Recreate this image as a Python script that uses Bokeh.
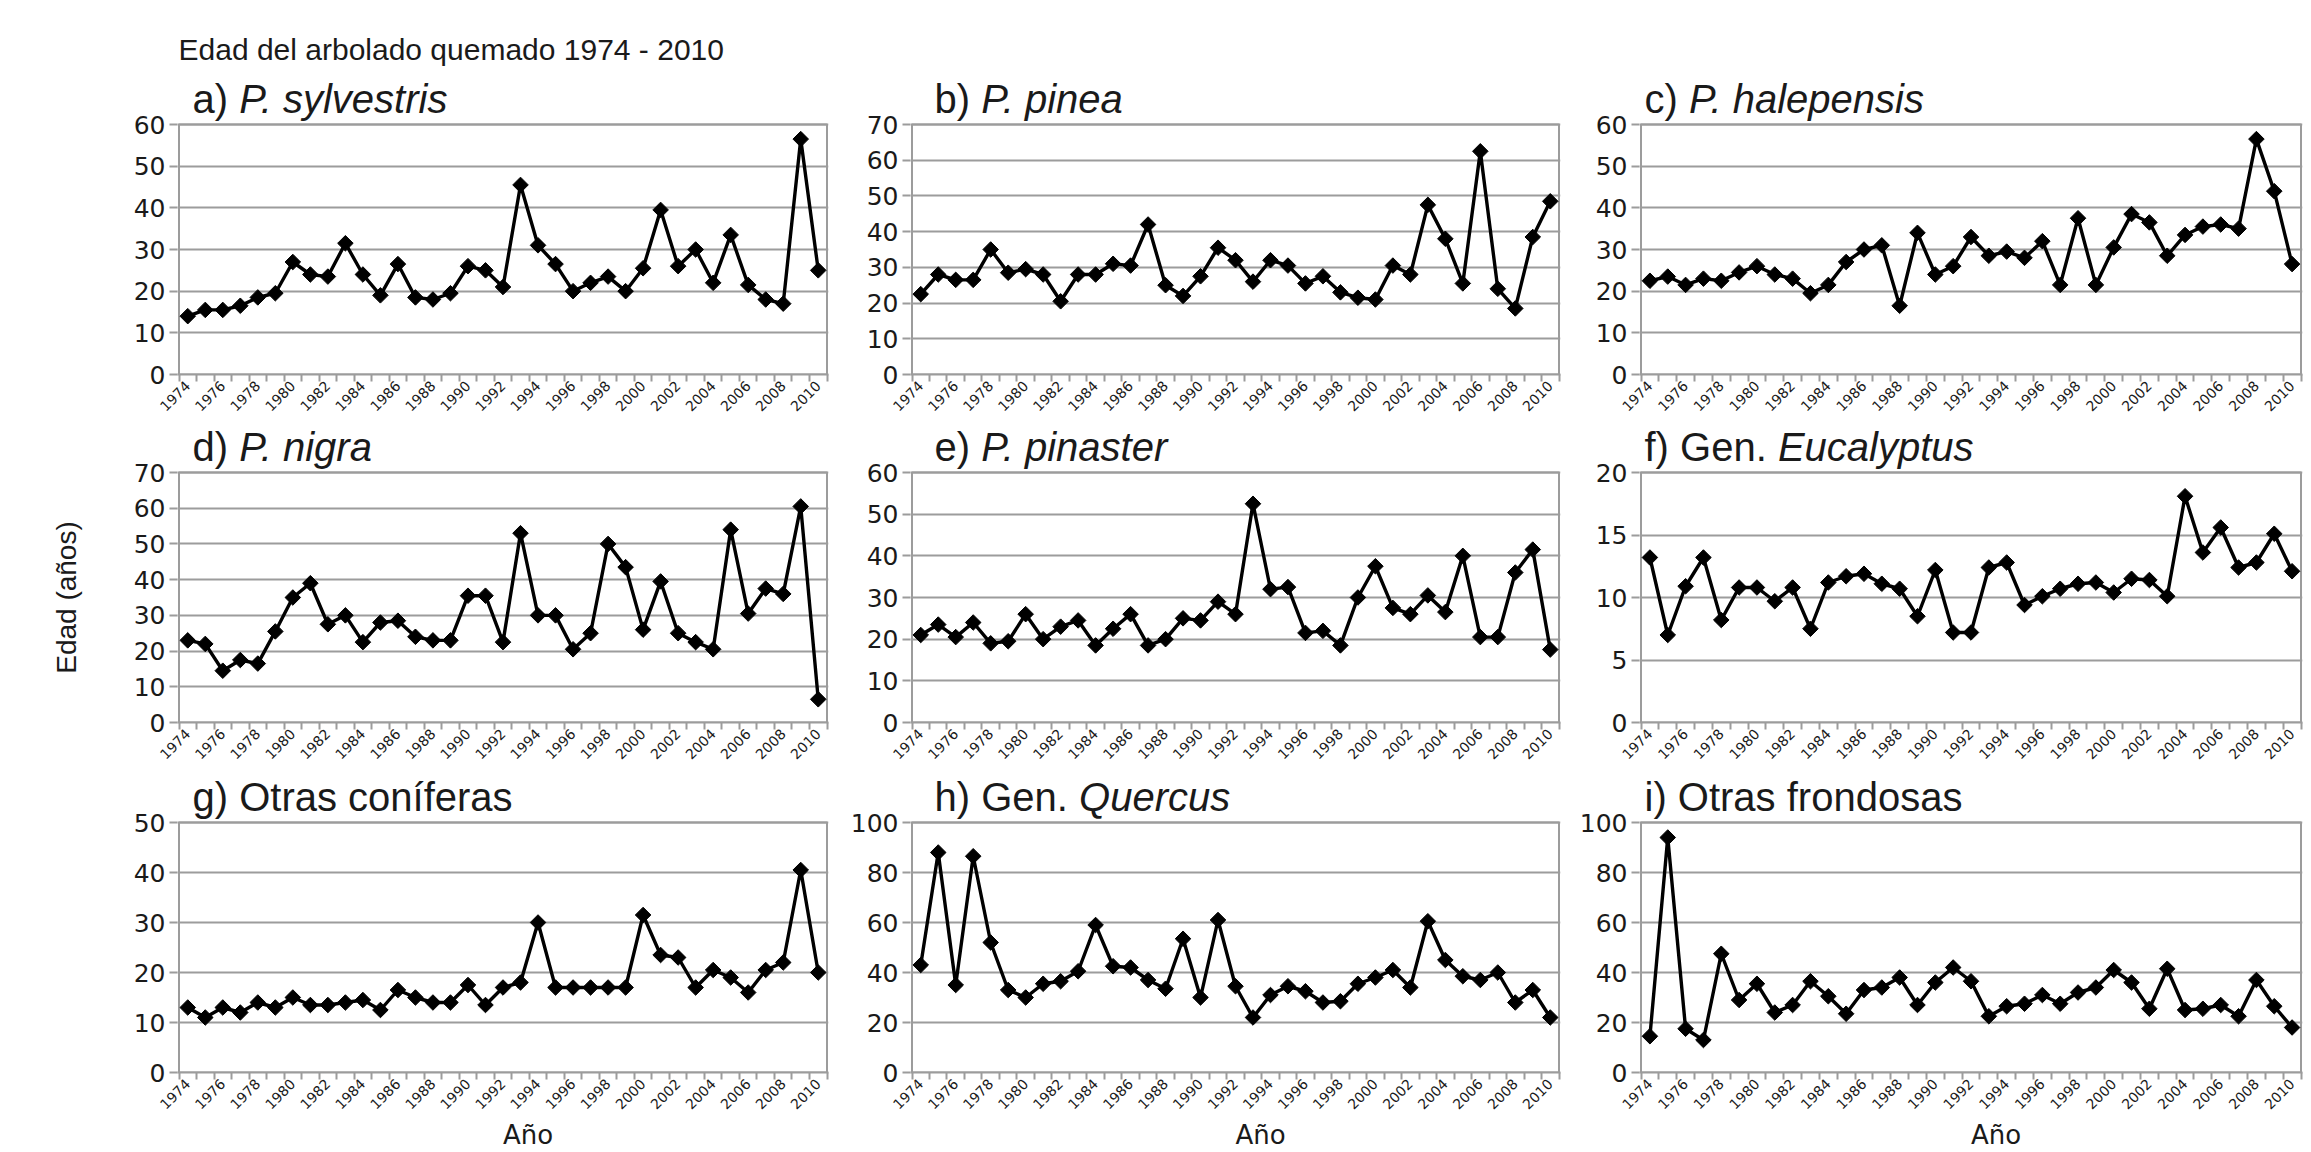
from math import pi
from bokeh.plotting import figure
from bokeh.models import Range1d, FixedTicker
from bokeh.layouts import column, row
from bokeh.core.properties import value
from bokeh.embed import file_html
from bokeh.resources import INLINE

# ---------------- data ----------------
years = list(range(1974, 2011))
tick_labels = ["1974", "1976", "1978", "1980", "1982", "1984", "1986", "1988", "1990",
               "1992", "1994", "1996", "1998", "2000", "2002", "2004", "2006", "2008", "2010"]

sylvestris = [14, 15.5, 15.5, 16.5, 18.5, 19.5, 27, 24, 23.5, 31.5, 24, 19, 26.5, 18.5, 18, 19.5,
              26, 25, 21, 45.5, 31, 26.5, 20, 22, 23.5, 20, 25.5, 39.5, 26, 30, 22, 33.5, 21.5,
              18, 17, 56.5, 25]
pinea = [22.5, 28, 26.5, 26.5, 35, 28.5, 29.5, 28, 20.5, 28, 28, 31, 30.5, 42, 25, 22, 27.5, 35.5,
         32, 26, 32, 30.5, 25.5, 27.5, 23, 21.5, 21, 30.5, 28, 47.5, 38, 25.5, 62.5, 24, 18.5,
         38.5, 48.5]
halepensis = [22.5, 23.5, 21.5, 23, 22.5, 24.5, 26, 24, 23, 19.5, 21.5, 27, 30, 31, 16.5, 34, 24,
              26, 33, 28.5, 29.5, 28, 32, 21.5, 37.5, 21.5, 30.5, 38.5, 36.5, 28.5, 33.5, 35.5, 36,
              35, 56.5, 44, 26.5]
nigra = [23, 22, 14.5, 17.5, 16.5, 25.5, 35, 39, 27.5, 30, 22.5, 28, 28.5, 24, 23, 23, 35.5, 35.5,
         22.5, 53, 30, 30, 20.5, 25, 50, 43.5, 26, 39.5, 25, 22.5, 20.5, 54, 30.5, 37.5, 36, 60.5,
         6.5]
pinaster = [21, 23.5, 20.5, 24, 19, 19.5, 26, 20, 23, 24.5, 18.5, 22.5, 26, 18.5, 20, 25, 24.5, 29,
            26, 52.5, 32, 32.5, 21.5, 22, 18.5, 30, 37.5, 27.5, 26, 30.5, 26.5, 40, 20.5, 20.5, 36,
            41.5, 17.5]
eucalyptus = [13.2, 7, 10.9, 13.2, 8.2, 10.8, 10.8, 9.7, 10.8, 7.5, 11.2, 11.7, 11.9, 11.1, 10.7,
              8.5, 12.2, 7.2, 7.2, 12.4, 12.8, 9.4, 10.1, 10.7, 11.1, 11.2, 10.4, 11.5, 11.4, 10.1,
              18.1, 13.6, 15.6, 12.4, 12.8, 15.1, 12.1]
otras_coniferas = [13, 11, 13, 12, 14, 13, 15, 13.5, 13.5, 14, 14.5, 12.5, 16.5, 15, 14, 14, 17.5,
                   13.5, 17, 18, 30, 17, 17, 17, 17, 17, 31.5, 23.5, 23, 17, 20.5, 19, 16, 20.5,
                   22, 40.5, 20]
quercus = [43, 88, 35, 86.5, 52, 33, 30, 35.5, 36.5, 40.5, 59, 42.5, 42, 37, 33.5, 53.5, 30, 61,
           34.5, 22, 31, 34.5, 32.5, 28, 28.5, 35.5, 38, 41, 34, 60.5, 45, 38.5, 37, 40, 28, 33, 22]
otras_frondosas = [14.5, 94, 17.5, 13, 47.5, 29, 35.5, 24, 27, 36.5, 30.5, 23.5, 33, 34, 38, 27,
                   36, 42, 36.5, 22.5, 26.5, 27.5, 31, 27.5, 32, 34, 41, 36, 25.5, 41.5, 25, 25.5,
                   27, 22.5, 37, 26.5, 18]

title_prefixes = ["a) ", "b) ", "c) ", "d) ", "e) ", "f) Gen. ", "g) Otras coníferas", "h) Gen. ",
                  "i) Otras frondosas"]
title_italics = ["P. sylvestris", "P. pinea", "P. halepensis", "P. nigra", "P. pinaster",
                 "Eucalyptus", "", "Quercus", ""]
series = [sylvestris, pinea, halepensis, nigra, pinaster, eucalyptus, otras_coniferas, quercus,
          otras_frondosas]
y_max = [60, 70, 60, 70, 60, 20, 50, 100, 100]
y_step = [10, 10, 10, 10, 10, 5, 10, 20, 20]

main_title = "Edad del arbolado quemado 1974 - 2010"
y_title = "Edad (años)"
x_title = "Año"

# ---------------- layout / style ----------------
GRAY = "#9c9c9c"
TXT = "#1a1a1a"
LEFT_W = 108                      # strip holding the y title
COL_L = [69, 70, 64]
COL_W = [651, 650, 663]
COL_R = [12, 15, 4]
H = 250                           # height of the gridded plot area
EXTRA = [123, 50, 52]             # title band (inside the frame) above each row's plot area
PT, PB = 1, 47
BOTTOM_H = 31
TITLE_DX = [15, 24, 5]
TITLE_FS = 40
TITLE_MID = 26                    # px above plot area (title text middle)
MAIN_MID = 75                     # px above plot area (main title middle)
TOTAL_W = sum(COL_L) + sum(COL_W) + sum(COL_R)
TOTAL_H = sum(PT + e + H + PB for e in EXTRA) + BOTTOM_H

ARIAL = {'a': .556, 'b': .556, 'c': .5, 'd': .556, 'e': .556, 'f': .278, 'g': .556, 'h': .556,
         'i': .222, ')': .333, ' ': .278, 'G': .778, 'n': .556, '.': .278}


def text_w(s, fs):
    return sum(ARIAL.get(ch, .556) for ch in s) * fs


frame_left = []
acc = 0
for c in range(3):
    frame_left.append(acc + COL_L[c])
    acc += COL_L[c] + COL_W[c] + COL_R[c]


def strip(h, w=TOTAL_W):
    s = figure(width=w, height=h, output_backend="svg", toolbar_location=None,
               x_range=Range1d(0, w), y_range=Range1d(h, 0),
               x_axis_type=None, y_axis_type=None,
               min_border=0, min_border_left=0, min_border_right=0,
               min_border_top=0, min_border_bottom=0)
    s.grid.visible = False
    s.outline_line_color = None
    return s


def make_panel(k):
    c, r = k % 3, k // 3
    L, W, R = COL_L[c], COL_W[c], COL_R[c]
    E = EXTRA[r]
    n_cat = len(years)
    pxu = (W - 3) / n_cat                 # pixels per year
    pad = 1.5 / pxu
    x0, x1 = years[0] - 0.5, years[-1] + 0.5
    pyu = H / y_max[k]                    # pixels per y unit
    p = figure(width=L + W + R, height=PT + E + H + PB, output_backend="svg",
               toolbar_location=None,
               x_range=Range1d(x0 - pad, x1 + pad),
               y_range=Range1d(0, y_max[k] * (H + E) / H),
               min_border_left=L, min_border_right=R, min_border_top=PT, min_border_bottom=PB)
    xa = p.xaxis[0]
    xa.ticker = FixedTicker(ticks=[float(t) for t in tick_labels],
                            minor_ticks=[yy - 0.5 for yy in years] + [x1])
    xa.major_label_overrides = {float(t): t for t in tick_labels}
    xa.major_label_orientation = pi / 4
    xa.major_tick_line_color = None
    xa.major_tick_out = 7
    xa.major_tick_in = 0
    xa.minor_tick_line_color = GRAY
    xa.minor_tick_line_width = 2
    xa.minor_tick_out = 7
    xa.minor_tick_in = 0
    xa.axis_line_color = GRAY
    xa.axis_line_width = 2
    xa.major_label_text_font = "DejaVu Sans"
    xa.major_label_text_font_size = "14px"
    xa.major_label_text_color = TXT
    xa.major_label_standoff = 2

    ya = p.yaxis[0]
    ya.ticker = FixedTicker(ticks=list(range(0, y_max[k] + 1, y_step[k])))
    ya.major_tick_out = 8
    ya.major_tick_in = 0
    ya.major_tick_line_color = GRAY
    ya.major_tick_line_width = 2
    ya.minor_tick_line_color = None
    ya.axis_line_color = None
    ya.major_label_text_font = "DejaVu Sans"
    ya.major_label_text_font_size = "25px"
    ya.major_label_text_color = TXT
    ya.major_label_standoff = 4

    p.xgrid.visible = False
    p.ygrid.grid_line_color = GRAY
    p.ygrid.grid_line_width = 2
    p.outline_line_color = None

    # plot-area border
    p.quad(left=[x0], right=[x1], bottom=[0], top=[y_max[k]], fill_color=None,
           line_color=GRAY, line_width=2)

    p.line(years, series[k], line_color="black", line_width=3.4)
    p.scatter(years, series[k], marker="square", size=11, angle=pi / 4,
              fill_color="black", line_color="black")

    # panel title (normal prefix + italic name)
    tx = x0 - pad + TITLE_DX[c] / pxu
    ty = y_max[k] + TITLE_MID / pyu
    p.text(x=[tx], y=[ty], text=[title_prefixes[k].rstrip()],
           text_font=value("Liberation Sans"), text_font_size=f"{TITLE_FS}px",
           text_color=TXT, text_align="left", text_baseline="middle")
    if title_italics[k]:
        p.text(x=[tx + text_w(title_prefixes[k], TITLE_FS) / pxu], y=[ty],
               text=[title_italics[k]], text_font=value("Liberation Sans"),
               text_font_style="italic", text_font_size=f"{TITLE_FS}px",
               text_color=TXT, text_align="left", text_baseline="middle")
    if k == 0:
        p.text(x=[x0 - pad + 1 / pxu], y=[y_max[k] + MAIN_MID / pyu], text=[main_title],
               text_font=value("Liberation Sans"), text_font_size="30px",
               text_color=TXT, text_align="left", text_baseline="middle")
    return p


panels = [make_panel(k) for k in range(9)]

# bottom strip with the x title
bottom = strip(BOTTOM_H)
for c in range(3):
    bottom.text(x=[frame_left[c] + COL_W[c] / 2 + 25], y=[BOTTOM_H / 2], text=[x_title],
                text_font=value("DejaVu Sans"), text_font_size="26px", text_color=TXT,
                text_align="center", text_baseline="middle")

# left strip with the y title
left = strip(TOTAL_H, LEFT_W)
row2_plot_top = (PT + EXTRA[0] + H + PB) + PT + EXTRA[1]
left.text(x=[66], y=[row2_plot_top + H / 2], text=[y_title], angle=pi / 2,
          text_font=value("Liberation Sans"), text_font_size="28px", text_color=TXT,
          text_align="center", text_baseline="middle")

grid = column(row(*panels[0:3]), row(*panels[3:6]), row(*panels[6:9]), bottom)
layout = row(left, grid)

open("out.html", "w").write(file_html(layout, INLINE))
